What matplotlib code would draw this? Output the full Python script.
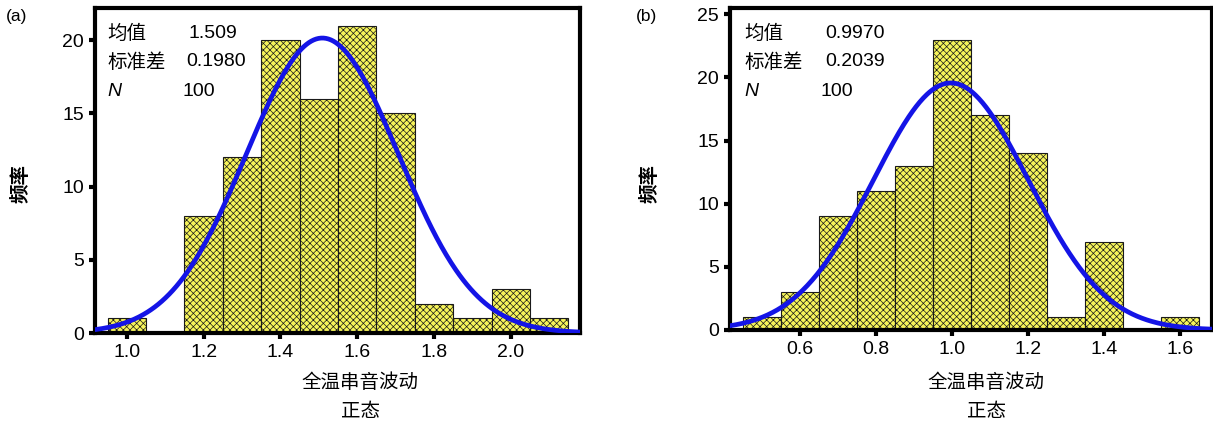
import numpy as np
import matplotlib
matplotlib.use('Agg')
import matplotlib.pyplot as plt

plt.rcParams['font.family'] = ['Liberation Sans', 'Noto Sans CJK SC']
plt.rcParams['hatch.linewidth'] = 0.5
plt.rcParams['hatch.color'] = '#5a5a3a'

# Dados dos dois histogramas
centros_a = [1.0, 1.1, 1.2, 1.3, 1.4, 1.5, 1.6, 1.7, 1.8, 1.9, 2.0, 2.1]
freq_a = [1, 0, 8, 12, 20, 16, 21, 15, 2, 1, 3, 1]
media_a, dp_a = 1.509, 0.1980

centros_b = [0.5, 0.6, 0.7, 0.8, 0.9, 1.0, 1.1, 1.2, 1.3, 1.4, 1.5, 1.6]
freq_b = [1, 3, 9, 11, 13, 23, 17, 14, 1, 7, 0, 1]
media_b, dp_b = 0.9970, 0.2039

n_total = 100
largura = 0.1

fig = plt.figure(figsize=(12.13, 4.25), dpi=100)
W, H = 1213, 425
cjk = ['Noto Sans CJK SC', 'Liberation Sans']


def painel(rect, centros, freq, media, dp, xlim, ylim, xticks, yticks,
           txt_media, txt_dp, letra, pos_letra, pos_ylabel, pos_xlabel, pos_stats):
    ax = fig.add_axes(rect)
    ax.bar(centros, freq, width=largura, color='#f6f45a', edgecolor='#1a1a1a',
           linewidth=0.8, hatch='xxxxx', zorder=2)
    x = np.linspace(xlim[0], xlim[1], 400)
    y = n_total * largura / (dp * np.sqrt(2 * np.pi)) * np.exp(-0.5 * ((x - media) / dp) ** 2)
    ax.plot(x, y, color='#1414e6', linewidth=3.4, zorder=3, solid_capstyle='round')
    ax.set_xlim(*xlim)
    ax.set_ylim(*ylim)
    ax.set_xticks(xticks)
    ax.set_xticklabels([f'{t:.1f}' for t in xticks])
    ax.set_yticks(yticks)
    for s in ax.spines.values():
        s.set_linewidth(3)
    ax.tick_params(direction='out', length=4, width=3, labelsize=14, pad=4)

    # caixa de estatisticas
    xs0, xs1, ys = pos_stats
    fig.text(xs0 / W, 1 - ys[0] / H, '均值', fontsize=14, va='center', family=cjk)
    fig.text(xs1[0] / W, 1 - ys[0] / H, txt_media, fontsize=14, va='center')
    fig.text(xs0 / W, 1 - ys[1] / H, '标准差', fontsize=14, va='center', family=cjk)
    fig.text(xs1[1] / W, 1 - ys[1] / H, txt_dp, fontsize=14, va='center')
    fig.text(xs0 / W, 1 - ys[2] / H, 'N', fontsize=14, va='center', style='italic')
    fig.text(xs1[2] / W, 1 - ys[2] / H, '100', fontsize=14, va='center')

    fig.text(pos_letra[0] / W, 1 - pos_letra[1] / H, letra, fontsize=12.5, va='center')
    fig.text(pos_ylabel[0] / W, 1 - pos_ylabel[1] / H, '频率', fontsize=14,
             rotation=90, ha='center', va='center', family=cjk, weight='bold')
    fig.text(pos_xlabel[0] / W, 1 - pos_xlabel[1] / H, '全温串音波动', fontsize=14,
             ha='center', va='center', family=cjk)
    fig.text(pos_xlabel[0] / W, 1 - pos_xlabel[2] / H, '正态', fontsize=14,
             ha='center', va='center', family=cjk)
    return ax


painel([95 / W, 1 - 333 / H, 485 / W, 325 / H], centros_a, freq_a, media_a, dp_a,
       (0.917, 2.18), (0, 22.2), [1.0, 1.2, 1.4, 1.6, 1.8, 2.0], [0, 5, 10, 15, 20],
       '1.509', '0.1980', '(a)', (6, 17), (21, 184), (360, 383, 412),
       (107, (188, 186, 182), (33, 62, 91)))

painel([730 / W, 1 - 330 / H, 482 / W, 322 / H], centros_b, freq_b, media_b, dp_b,
       (0.416, 1.684), (0, 25.5), [0.6, 0.8, 1.0, 1.2, 1.4, 1.6], [0, 5, 10, 15, 20, 25],
       '0.9970', '0.2039', '(b)', (636, 17), (650, 183), (986, 383, 412),
       (744, (825, 825, 821), (33, 62, 91)))

plt.savefig('out.png', dpi=100)
plt.close()
